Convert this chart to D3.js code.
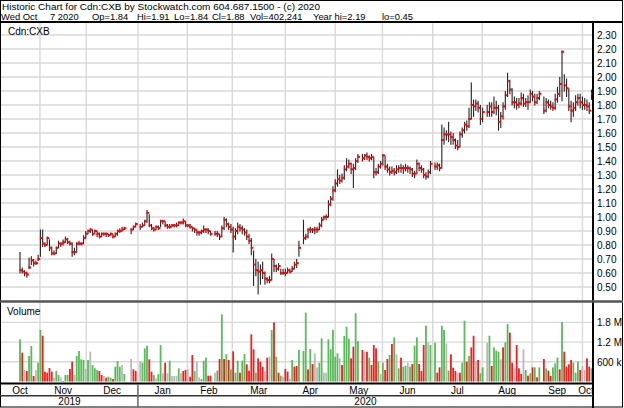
<!DOCTYPE html>
<html>
 <head>
  <meta charset="UTF-8">
  <title>Historic Chart for Cdn:CXB</title>
  <style>
    body { margin: 0; background: #fff; }
    svg text { font-family: Arial, "Liberation Sans", sans-serif; font-size: 10px; fill: #000; }
    svg text.head { font-size: 9.4px; }
  </style>
 </head>
 <body>
<div id="viz-wrapper">
</div>
 </body>
 <script src="https://d3js.org/d3.v7.min.js" charset="utf-8"></script>
 <script type="text/javascript">
    // one slot per weekday, Oct 21 2019 .. Oct 7 2020; null = market holiday
    var hi = [
      .75,.64,.62,.61,.71,.72,.70,.69,.73,.91, .91,.82,.86,.84,.79,.76,.79,.83,.82,.84,
      .86,.85,.83,.82,.78,.82,.83,.82,.87,.90, .91,.92,.91,.91,.90,.89,.89,.89,.89,.88,
      .89,.88,.89,.91,.92,.93,.93,
      null,null, .92,.94,.96, null,
      .95,.96,.98,1.05,1.02,.95,.93,.94,.94,.98, .98,.97,.95,.95,.95,.95,.96,.97,.97,.99,
      .97,.95,.95,.93,.92,.91,.90,.91,.94,.92, .92,.90,
      null,
      .90,.90,.88,.94,1.00,.99,.96,.95,.93,.92, .96,.95,.94,.92,.91,.88,.85,.76,.70,.68,
      .66,.68,.61,.57,.58,.74,.70,.66,.67,.63, .63,.63,.64,.63,.65,.68,.70,.83,
      null,
      .98,.88,.92,.93,.92,.93,.93,.96,1.00,1.01, 1.02,1.12,1.15,1.22,1.27,1.34,1.30,1.31,1.37,1.42,
      1.41,1.39,1.38,1.42,1.45,
      null,
      1.45,1.45,1.46,1.44,1.45,1.43,1.35,1.38,1.40,1.45, 1.44,1.38,1.36,1.36,1.35,1.37,1.37,1.38,1.37,1.38,
      1.37,1.36,1.35,1.33,1.41,1.39,1.37,1.35,1.32,1.34, 1.40,
      null,
      1.39,1.39,1.38,1.66,1.64,1.62,1.68,1.61,1.60,1.56, 1.55,1.61,1.64,1.68,1.69,1.78,1.96,1.84,1.84,1.83,
      1.80,1.78,
      null,
      1.80,1.82,1.82,1.86,1.83,1.80,1.75,1.82,1.90,2.03, 1.98,1.92,1.86,1.85,1.85,1.89,1.88,1.85,1.87,1.91,
      1.90,1.88,1.88,1.90,
      null,
      1.86,1.85,1.84,1.83,1.82,1.88,1.93,2.00,2.19,2.02, 1.99,1.92,1.83,1.82,1.87,1.88,1.88,1.86,1.85,1.84,
      1.82,1.91
    ];
    var lo = [
      .60,.60,.58,.57,.63,.66,.65,.66,.69,.72, .79,.79,.80,.76,.73,.73,.74,.78,.79,.80,
      .82,.81,.80,.72,.73,.75,.80,.80,.81,.85, .88,.89,.87,.88,.86,.85,.86,.87,.86,.86,
      .87,.85,.86,.87,.89,.90,.91,
      null,null, .88,.91,.93, null,
      .91,.93,.94,.96,.93,.91,.90,.91,.91,.93, .95,.93,.92,.92,.93,.93,.93,.94,.95,.95,
      .93,.93,.92,.90,.89,.87,.87,.88,.89,.89, .88,.87,
      null,
      .87,.86,.84,.86,.91,.93,.91,.89,.75,.84, .88,.90,.88,.87,.84,.81,.73,.51,.58,.45,
      .52,.56,.52,.53,.53,.55,.61,.61,.62,.59, .59,.58,.60,.60,.61,.63,.64,.72,
      null,
      .81,.84,.85,.89,.89,.88,.89,.91,.93,.98, .98,1.00,1.08,1.12,1.18,1.22,1.24,1.25,1.27,1.33,
      1.35,1.31,1.21,1.34,1.39,
      null,
      1.40,1.41,1.41,1.40,1.41,1.28,1.30,1.31,1.35,1.37, 1.34,1.32,1.30,1.31,1.30,1.31,1.32,1.32,1.31,1.33,
      1.32,1.31,1.29,1.28,1.31,1.33,1.32,1.28,1.27,1.28, 1.31,
      null,
      1.34,1.34,1.33,1.35,1.52,1.55,1.54,1.52,1.52,1.49, 1.48,1.50,1.57,1.60,1.62,1.64,1.70,1.72,1.76,1.75,
      1.66,1.68,
      null,
      1.72,1.72,1.72,1.74,1.73,1.62,1.64,1.70,1.77,1.86, 1.88,1.80,1.78,1.77,1.78,1.80,1.79,1.79,1.77,1.82,
      1.83,1.80,1.81,1.84,
      null,
      1.74,1.75,1.78,1.77,1.76,1.77,1.82,1.86,1.83,1.90, 1.86,1.76,1.68,1.72,1.76,1.80,1.78,1.77,1.77,1.76,
      1.74,1.84
    ];
    var cl = [
      .62,.61,.60,.59,.64,.69,.67,.67,.70,.85, .81,.80,.85,.78,.74,.74,.78,.81,.81,.82,
      .84,.82,.81,.75,.75,.81,.81,.81,.85,.88, .90,.91,.88,.90,.88,.86,.88,.88,.88,.87,
      .88,.86,.88,.90,.90,.91,.92,
      null,null, .91,.93,.95, null,
      .93,.94,.97,1.03,.94,.92,.91,.93,.92,.97, .97,.94,.93,.93,.94,.94,.94,.96,.96,.97,
      .94,.94,.93,.92,.91,.89,.89,.90,.91,.91, .90,.88,
      null,
      .88,.88,.86,.92,.98,.95,.93,.91,.86,.90, .93,.92,.91,.89,.86,.83,.78,.66,.62,.61,
      .62,.60,.56,.55,.55,.70,.65,.63,.65,.60, .60,.60,.62,.61,.63,.66,.67,.78,
      null,
      .85,.86,.91,.91,.91,.91,.91,.94,.98,1.00, 1.00,1.09,1.13,1.19,1.24,1.27,1.26,1.28,1.34,1.36,
      1.38,1.34,1.35,1.40,1.43,
      null,
      1.42,1.44,1.43,1.42,1.43,1.32,1.32,1.36,1.38,1.44, 1.36,1.34,1.32,1.33,1.32,1.34,1.35,1.35,1.35,1.35,
      1.35,1.34,1.31,1.31,1.38,1.35,1.34,1.30,1.29,1.32, 1.38,
      null,
      1.36,1.37,1.35,1.55,1.59,1.59,1.59,1.57,1.55,1.51, 1.50,1.59,1.62,1.66,1.65,1.70,1.80,1.79,1.81,1.78,
      1.70,1.75,
      null,
      1.75,1.79,1.75,1.78,1.78,1.68,1.72,1.79,1.87,1.97, 1.91,1.82,1.82,1.80,1.81,1.85,1.81,1.82,1.82,1.88,
      1.86,1.82,1.85,1.88,
      null,
      1.76,1.82,1.80,1.79,1.78,1.84,1.88,1.95,2.18,1.94, 1.92,1.79,1.76,1.78,1.82,1.85,1.82,1.80,1.80,1.79,
      1.76,1.88
    ];
    // volume in thousands of shares
    var vol = [
      1284,878,350,320,776,1081,167,350,573,1568, 1395,300,269,411,300,117,320,198,127,15,
      198,198,381,604,198,776,929,675,655,381, 655,908,502,401,350,320,198,167,117,147,
      117,76,452,624,452,502,228,
      null,null, 685,370,320, null,
      624,573,1010,1091,675,300,198,96,228,1111, 249,573,249,634,167,167,167,401,249,320,
      350,370,147,807,320,604,127,76,634,726, 178,178,
      null,
      269,330,685,2045,685,827,655,370,919,269, 634,269,634,837,523,330,1436,980,269,705,
      604,452,300,726,756,1568,1802,756,269,178, 147,381,300,76,655,452,472,959,
      null,
      929,2096,370,990,533,858,431,573,1315,269, 269,1284,980,1568,756,858,705,502,1385,1670,
      1304,705,1061,2076,1233,
      null,
      959,908,908,726,502,1111,1010,604,228,573, 350,685,807,1142,1345,827,401,726,452,482,
      573,452,533,1091,1345,533,320,1111,1700,1193, 1111,
      null,
      1182,269,431,1700,1568,1162,330,827,421,320, 269,269,573,1853,604,776,1040,1395,624,655,
      249,431,
      null,
      1182,1395,472,1040,939,908,675,1040,1193,1751, 1487,573,401,1111,401,228,980,350,178,249,
      431,431,127,431,
      null,
      685,401,330,167,431,553,726,370,1812,908, 452,523,655,573,269,604,350,472,350,705,
      452,402
    ];
    // g = up day, r = down day, n = unchanged, - = holiday
    var volDir = ("grnrggrngg" + "rrrrrnggnr" + "ggrrnggggn" + "gngggrrnrg" + "grgggng" + "--" + "nrr" + "-" +
                  "ngggrrgngg" + "nrngnnngnr" + "rnrrgnngggrr" + "-" +
                  "ngrgrgrgrg" + "grggrrrrgr" + "rrnrngrgrg" + "nrrngrrg" + "-" +
                  "ggrgrnnggn" + "ngggggnrgg" + "grrgg" + "-" +
                  "rnrgrrrgng" + "rrgrgngrgg" + "ngrggrrrgng" + "-" +
                  "grrggngrrr" + "nrggrgrrnrgg" + "-" +
                  "ngrgggnrgg" + "rrnrrrngrg" + "rgrg" + "-" +
                  "rgrrgggrgr" + "rrrgggrnnrrg").split('');

    var priceTicks = [0.5,0.6,0.7,0.8,0.9,1.0,1.1,1.2,1.3,1.4,1.5,1.6,1.7,1.8,1.9,2.0,2.1,2.2,2.3];
    var volTicks = [600, 1200, 1800];
    var volTickLabels = ["600 k", "1.2 M", "1.8 M"];
    var monthNames = ["Oct","Nov","Dec","Jan","Feb","Mar","Apr","May","Jun","Jul","Aug","Sep","Oct"];
    var monthLines = [8.8, 29.2, 52, 73.8, 93.6, 117, 139, 159.8, 182, 203.8, 225.8, 248];   // slot of month start
    var monthLabelAt = [0, 19, 40.6, 62.9, 83.3, 105.3, 128, 149.4, 170.9, 192.9, 214.8, 236.9, 249.6];
    var yearNames = ["2019", "2020"];
    var yearBreak = 52;
    var header1 = "Historic Chart for Cdn:CXB by Stockwatch.com 604.687.1500 - (c) 2020";
    var header2 = ["Wed Oct", "7 2020", "Op=1.84", "Hi=1.91", "Lo=1.84", "Cl=1.88", "Vol=402,241", "Year hi=2.19", "lo=0.45"];
    var header2X = [1, 50, 92, 137, 174, 212, 250, 313, 382];

    var width = 624, height = 408;
    var plotLeft = 1, plotRight = 593;
    var gridColor = '#d8d8d8';
    var dirColor = {g: '#58bc58', r: '#f41d1d', n: '#b9b9b9'};

    var svg = d3.select('#viz-wrapper')
                .append('svg')
                .attr('width', width)
                .attr('height', height);

    var x = d3.scaleLinear().domain([0, 252]).range([20, 591.5]);
    var y = d3.scaleLinear().domain([0.5, 2.3]).range([287, 35]);
    var yv = d3.scaleLinear().domain([0, 1800]).range([381.5, 322.4]);

    var slots = d3.range(cl.length).filter(function(i) { return cl[i] != null; });

    // header lines
    svg.append('text').attr('class', 'head').attr('x', 2).attr('y', 10)
       .attr('textLength', 318).attr('lengthAdjust', 'spacingAndGlyphs')
       .text(header1);
    var h2 = svg.append('text').attr('class', 'head').attr('y', 20);
    h2.selectAll('tspan').data(header2).enter().append('tspan')
      .attr('x', function(d, i) { return header2X[i]; })
      .text(function(d) { return d; });

    // grid lines
    var grid = svg.append('g').attr('stroke', gridColor).attr('stroke-width', 1.4);
    grid.selectAll('.hp').data(priceTicks).enter().append('line')
        .attr('x1', plotLeft).attr('x2', plotRight)
        .attr('y1', function(d) { return y(d); }).attr('y2', function(d) { return y(d); });
    grid.selectAll('.hv').data(volTicks).enter().append('line')
        .attr('x1', plotLeft).attr('x2', plotRight)
        .attr('y1', function(d) { return yv(d); }).attr('y2', function(d) { return yv(d); });
    grid.selectAll('.vp').data(monthLines).enter().append('line')
        .attr('x1', function(d) { return x(d); }).attr('x2', function(d) { return x(d); })
        .attr('y1', 23).attr('y2', 300);
    grid.selectAll('.vv').data(monthLines).enter().append('line')
        .attr('x1', function(d) { return x(d); }).attr('x2', function(d) { return x(d); })
        .attr('y1', 303).attr('y2', 382);

    // right axes, labels only
    var pAxis = svg.append('g').attr('transform', 'translate(593,0)')
        .call(d3.axisRight(y).tickValues(priceTicks).tickSize(0).tickPadding(4).tickFormat(d3.format('.2f')));
    var vAxis = svg.append('g').attr('transform', 'translate(593,0)')
        .call(d3.axisRight(yv).tickValues(volTicks).tickSize(0).tickPadding(4)
              .tickFormat(function(d, i) { return volTickLabels[i]; }));
    [pAxis, vAxis].forEach(function(a) {
        a.select('.domain').remove();
        a.selectAll('text').attr('fill', '#000');
        a.attr('font-size', null).attr('font-family', null);
    });

    // volume bars
    svg.append('g').selectAll('rect').data(slots).enter().append('rect')
        .attr('x', function(i) { return x(i) - 0.9; })
        .attr('width', 1.8)
        .attr('y', function(i) { return yv(vol[i]); })
        .attr('height', function(i) { return yv(0) - yv(vol[i]); })
        .attr('fill', function(i) { return dirColor[volDir[i]]; });

    // price bars: high-low line, red close mark
    svg.append('g').selectAll('line').data(slots).enter().append('line')
        .attr('x1', function(i) { return x(i); }).attr('x2', function(i) { return x(i); })
        .attr('y1', function(i) { return y(hi[i]); })
        .attr('y2', function(i) { return y(lo[i]) + 0.5; })
        .attr('stroke', '#222').attr('stroke-width', 1.1);
    svg.append('g').selectAll('rect').data(slots).enter().append('rect')
        .attr('x', function(i) { return x(i) - 0.5; })
        .attr('y', function(i) { return y(cl[i]) - 1; })
        .attr('width', 2.6).attr('height', 2)
        .attr('fill', '#f00');

    // panel labels
    svg.append('text').attr('x', 8).attr('y', 35).text('Cdn:CXB');
    svg.append('text').attr('x', 7).attr('y', 315).text('Volume');

    // month and year labels
    svg.append('g').selectAll('text').data(monthNames).enter().append('text')
        .attr('x', function(d, i) { return x(monthLabelAt[i]); })
        .attr('y', 393.5).attr('text-anchor', 'middle')
        .text(function(d) { return d; });
    var yb = x(yearBreak);
    svg.append('text').attr('x', (plotLeft + yb) / 2).attr('y', 405).attr('text-anchor', 'middle').text(yearNames[0]);
    svg.append('text').attr('x', (yb + plotRight) / 2).attr('y', 405).attr('text-anchor', 'middle').text(yearNames[1]);

    // cover for month labels running past the plot edge
    svg.append('rect').attr('x', 594).attr('y', 383).attr('width', 28).attr('height', 24).attr('fill', '#fff');

    // frame and separators
    var frame = svg.append('g').attr('stroke', '#000').attr('fill', 'none');
    frame.append('rect').attr('x', 0.5).attr('y', 0.5).attr('width', 622).attr('height', 406.5).attr('stroke-width', 1);
    frame.append('line').attr('x1', 0).attr('x2', 623).attr('y1', 22).attr('y2', 22).attr('stroke-width', 2);
    frame.append('line').attr('x1', 593).attr('x2', 593).attr('y1', 22).attr('y2', 408).attr('stroke-width', 2);
    frame.append('line').attr('x1', 0).attr('x2', 623).attr('y1', 301.5).attr('y2', 301.5)
         .attr('stroke', '#555').attr('stroke-width', 2.4);
    frame.append('line').attr('x1', 0).attr('x2', 593).attr('y1', 383.5).attr('y2', 383.5).attr('stroke-width', 2);
    frame.append('line').attr('x1', 0).attr('x2', 593).attr('y1', 395.8).attr('y2', 395.8)
         .attr('stroke', '#333').attr('stroke-width', 1.6);
    frame.append('line').attr('x1', yb).attr('x2', yb).attr('y1', 384).attr('y2', 407)
         .attr('stroke', '#666').attr('stroke-width', 1.5);
 </script>
</html>
